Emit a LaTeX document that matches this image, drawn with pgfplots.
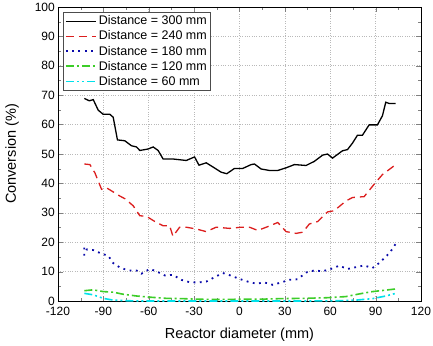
\documentclass[border=0pt]{standalone}
\usepackage{fontspec}
\setmainfont{Liberation Sans}
\usepackage{pgfplots}
\pgfplotsset{compat=1.18}
\definecolor{cred}{RGB}{220,30,30}
\definecolor{cblue}{RGB}{10,10,170}
\definecolor{cgreen}{RGB}{60,205,40}
\definecolor{ccyan}{RGB}{0,225,235}
\begin{document}
\begin{tikzpicture}
\begin{axis}[
  scale only axis, width=363bp, height=294bp,
  xmin=-120, xmax=120, ymin=0, ymax=100,
  xtick={-120,-90,...,120}, ytick={0,10,...,100},
  minor x tick num=1, minor y tick num=1,
  tick align=inside, major tick length=5bp, minor tick length=3bp,
  grid=major, major grid style={dotted, line width=0.6bp, gray!55},
  axis line style={line width=0.9bp},
  /pgf/number format/assume math mode=true,
  tick label style={font=\fontsize{12bp}{14bp}\selectfont, inner sep=0pt},
  xticklabel style={anchor=north, yshift=-6bp},
  yticklabel style={anchor=east, xshift=-3bp},
  label style={font=\fontsize{14.5bp}{16bp}\selectfont},
  xlabel={Reactor diameter (mm)}, ylabel={Conversion (\%)},
  xlabel style={at={(rel axis cs:0.5,0)}, yshift=-34bp, anchor=center},
  ylabel style={at={(rel axis cs:0,0.5)}, yshift=46bp, anchor=center},
  legend style={at={(rel axis cs:0.014,0.983)}, anchor=north west,
    font=\fontsize{12.5bp}{14bp}\selectfont, draw=black!70, line width=0.8bp,
    inner sep=1.5bp, row sep=0.5bp, cells={anchor=west}},
  legend image code/.code={\draw[#1] (0bp,0bp) -- (30bp,0bp);},
]
\coordinate (sw) at (rel axis cs:0,0);
\coordinate (ne) at (rel axis cs:1,1);
\addplot[black, line width=1.3bp] coordinates {
(-102.6,68.9) (-99.3,68.1) (-96.7,68.5) (-93.4,64.9) (-90.1,63.5) (-85.7,63.5) (-83.5,62.5) (-80.7,54.8) (-75.8,54.5) (-71.4,52.8) (-68.1,52.4) (-65.9,51.2) (-60.4,51.7) (-57.1,52.4) (-53.8,51.2) (-50.5,48.3) (-44,48.3) (-35.2,47.8) (-29.7,49.0) (-26.8,46.2) (-22,47.0) (-17.6,45.6) (-12.1,43.8) (-8.4,43.3) (-3.3,45.1) (2.2,45.1) (7.7,46.4) (9.9,46.6) (14.3,44.9) (19.8,44.4) (25.3,44.4) (30.8,45.3) (36.3,46.4) (44,46.1) (49.5,47.5) (54.9,49.6) (58.2,50.0) (61.5,48.6) (68.1,51.1) (71.4,51.5) (74.7,53.7) (78,56.4) (81.3,56.4) (85.7,59.9) (91.2,59.9) (94.5,63.0) (96.7,67.6) (98.9,67.2) (103.3,67.2)
};
\addlegendentry{Distance = 300 mm}
\addplot[cred, line width=1.3bp, dash pattern=on 8bp off 5bp] coordinates {
(-102.6,46.6) (-98.9,46.4) (-95.6,43.6) (-91.2,38.0) (-87.9,38.5) (-83.5,37.1) (-79.1,35.7) (-75.8,34.8) (-70.3,32.4) (-65.9,29.0) (-61.5,28.8) (-54.9,26.7) (-50.5,25.6) (-46.2,25.6) (-44,22.0) (-39.6,25.1) (-35.2,25.1) (-28.6,24.5) (-22,23.6) (-15.4,25.1) (-6.6,24.7) (1.1,25.1) (6.6,25.1) (12.1,24.0) (18.7,25.3) (25.3,26.7) (30.8,23.6) (37.4,23.0) (41.8,23.4) (46.2,26.2) (51.6,27.0) (58.2,30.3) (62.6,30.7) (70.3,34.0) (74.7,35.2) (82.4,35.5) (89,39.7) (94.5,43.0) (103.3,46.4)
};
\addlegendentry{Distance = 240 mm}
\addplot[cblue, line width=1.8bp, dash pattern=on 1.8bp off 4.5bp] coordinates {
(-102.6,15.4) (-102.6,18.6) (-101,17.5) (-96.7,17.3) (-91.2,16.1) (-86.8,15.4) (-83.5,12.9) (-79.1,11.4) (-73.6,10.4) (-68.1,10.4) (-64.8,9.3) (-59.3,10.9) (-54.9,10.1) (-49.5,8.7) (-44,8.9) (-38.5,7.2) (-33,6.4) (-27.5,6.3) (-22,6.6) (-16.5,8.1) (-11,9.5) (-5.5,8.6) (0,7.5) (5.5,6.6) (11,5.9) (16.5,6.3) (22,5.5) (27.5,6.3) (33,7.2) (38.5,7.4) (44,9.7) (49.5,10.4) (54.9,10.1) (60.4,10.9) (65.9,12.0) (71.4,10.9) (76.9,11.5) (82.4,12.1) (87.9,11.2) (92.3,12.9) (96.7,15.0) (100,16.9) (103.3,19.5)
};
\addlegendentry{Distance = 180 mm}
\addplot[cgreen, line width=1.6bp, dash pattern=on 8bp off 3bp on 2bp off 3bp] coordinates {
(-102.6,3.5) (-96.7,3.8) (-90.1,3.2) (-83.5,3.0) (-76.9,2.3) (-68.1,1.7) (-59.3,1.3) (-48.4,0.9) (-37.4,0.8) (-26.4,0.6) (-15.4,0.5) (0,0.6) (13.2,0.6) (26.4,0.8) (41.8,0.9) (57.1,1.1) (70.3,1.5) (79.1,2.4) (87.9,3.2) (96.7,3.7) (103.3,4.1)
};
\addlegendentry{Distance = 120 mm}
\addplot[ccyan, line width=1.6bp, dash pattern=on 8bp off 3bp on 2bp off 3bp on 2bp off 3bp] coordinates {
(-102.6,2.6) (-96.7,2.1) (-90.1,0.9) (-83.5,0.3) (-74.7,0.1) (-65.9,0) (-44,0) (-22,0) (0,0) (22,0) (44,0) (65.9,0.1) (76.9,0.3) (87.9,0.8) (96.7,1.7) (103.3,2.6)
};
\addlegendentry{Distance = 60 mm}
\end{axis}
\pgfresetboundingbox
\path ([shift={(-58bp,-45bp)}]sw) rectangle ([shift={(12bp,7bp)}]ne);
\end{tikzpicture}
\end{document}
